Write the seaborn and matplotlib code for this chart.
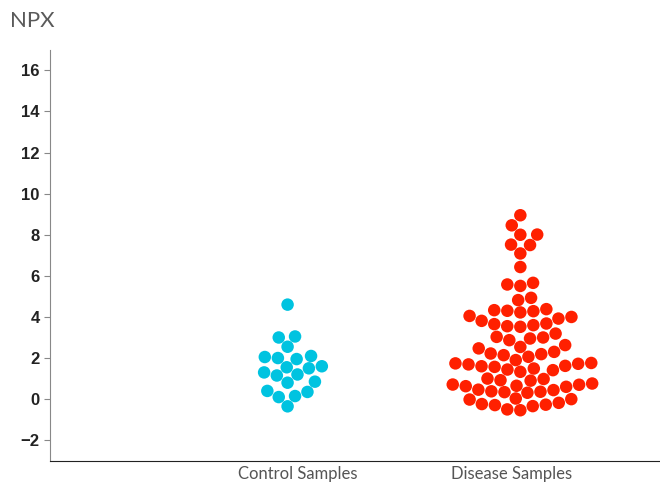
import seaborn as sns
import pandas as pd
import matplotlib.pyplot as plt
from matplotlib.transforms import ScaledTranslation

groups = ["Control Samples", "Disease Samples"]
colors = ["#00C3E0", "#FF2000"]

control = [4.6, 3.05, 3.0, 2.55, 2.0, 1.95, 2.05, 2.1, 1.6, 1.55, 1.5,
           1.2, 1.15, 1.3, 0.8, 0.85, 0.35, 0.4, 0.1, 0.15, -0.35]

disease = [8.95, 8.46, 8.01, 8.0, 7.52, 7.5, 7.09, 6.43, 5.58, 5.51, 5.66,
           4.93, 4.82, 4.38, 4.3, 4.22, 4.28, 4.33, 4.0, 4.05, 3.81, 3.6,
           3.52, 3.65, 3.55, 3.68, 3.92, 3.03, 2.95, 2.87, 3.0, 3.19, 2.54,
           2.47, 2.63, 2.19, 2.06, 1.9, 2.14, 2.22, 2.3, 1.74, 1.69, 1.62,
           1.49, 1.41, 1.33, 1.44, 1.57, 1.6, 1.76, 1.72, 1.0, 0.92, 0.9,
           0.98, 0.76, 0.71, 0.63, 0.44, 0.36, 0.31, 0.34, 0.38, 0.46, 0.6,
           0.65, 0.7, 0.03, -0.02, -0.24, -0.29, -0.5, -0.54, -0.34, -0.27,
           -0.18, 0.0]

df = pd.DataFrame({
    "group": [groups[0]] * len(control) + [groups[1]] * len(disease),
    "NPX": control + disease,
})

sns.set_style("white")
fig, ax = plt.subplots(figsize=(6.6, 4.84), dpi=100)
fig.subplots_adjust(left=0.076, right=1.0, top=0.897, bottom=0.048)

sns.swarmplot(data=df, x="group", y="NPX", hue="group", palette=colors,
              order=groups, size=9, linewidth=0, legend=False, ax=ax)

ax.set_ylim(-3, 17)
ax.set_xlim(-1.02, 1.6)
ax.set_yticks(range(-2, 17, 2))
ax.set_yticklabels([str(t).replace("-", "\u2212") for t in range(-2, 17, 2)],
                   fontsize=12, fontweight="bold", color="#222222",
                   family="Liberation Sans")
ax.tick_params(axis="y", length=4, width=0.8, color="#888888", left=True)
ax.tick_params(axis="x", length=0, pad=4)
ax.set_xticks([0, 1])
ax.set_xticklabels(groups, fontsize=12, color="#555555",
                   family=["Lato", "DejaVu Sans"])
# labels sit slightly inward from the swarm centres in the reference
for lab, dx in zip(ax.get_xticklabels(), [10, -9]):
    lab.set_transform(lab.get_transform() + ScaledTranslation(dx / 100, 0, fig.dpi_scale_trans))
ax.set_xlabel("")
ax.set_ylabel("")
ax.text(-0.066, 1.047, "NPX", transform=ax.transAxes, fontsize=16,
        color="#5a5a5a", ha="left", va="bottom",
        family=["Lato", "DejaVu Sans"])

for s in ["top", "right"]:
    ax.spines[s].set_visible(False)
ax.spines["left"].set_color("#888888")
ax.spines["bottom"].set_color("#222222")

fig.savefig("out.png", dpi=100)
